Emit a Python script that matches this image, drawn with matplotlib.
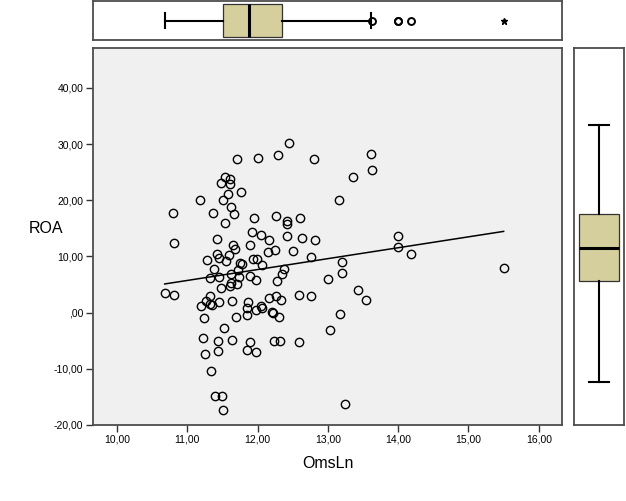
import numpy as np
import matplotlib
matplotlib.use('Agg')
import matplotlib.pyplot as plt
from matplotlib.ticker import FuncFormatter, FixedLocator

plt.rcParams['font.family'] = ['Liberation Sans', 'DejaVu Sans']

oms_ln = np.array([
    12.45, 12.29, 12.01, 11.71, 12.80, 13.61, 13.63, 13.36, 13.16, 11.18,
    11.54, 11.61, 11.48, 11.61, 11.76, 11.58, 11.51, 11.62, 10.80, 11.37,
    11.66, 11.54, 11.95, 12.26, 12.42, 12.42, 12.60, 11.92, 12.05, 12.42,
    12.63, 12.82, 11.42, 12.16, 10.81, 11.65, 11.89, 11.68, 12.15, 12.25,
    12.50, 12.76, 11.42, 11.59, 11.45, 11.28, 11.55, 11.93, 11.99, 11.75,
    11.78, 12.06, 11.38, 11.72, 12.37, 12.35, 11.62, 11.32, 11.45, 11.74,
    11.89, 13.00, 11.98, 12.28, 11.48, 11.61, 11.71, 11.62, 10.68, 10.81,
    11.32, 11.27, 11.45, 11.32, 11.35, 11.19, 11.64, 11.86, 11.85, 11.98,
    12.05, 12.06, 12.16, 12.26, 12.33, 12.59, 12.76, 12.20, 12.22, 11.85,
    12.30, 11.69, 11.24, 11.52, 13.03, 11.22, 11.44, 11.64, 11.89, 12.23,
    12.32, 12.59, 11.44, 11.85, 11.98, 11.25, 11.34, 11.39, 11.49, 11.51,
    14.00, 14.00, 14.18, 13.20, 13.20, 13.43, 13.54, 13.17, 15.50, 13.24,
])
roa = np.array([
    30.25, 28.11, 27.58, 27.40, 27.40, 28.29, 25.44, 24.20, 20.11, 20.11,
    24.20, 23.84, 23.13, 22.95, 21.53, 21.17, 20.11, 18.86, 17.79, 17.79,
    17.62, 16.01, 16.90, 17.26, 16.37, 15.84, 16.90, 14.41, 13.88, 13.70,
    13.35, 12.99, 13.17, 12.99, 12.46, 12.10, 12.10, 11.39, 10.85, 11.21,
    11.03, 9.96, 10.50, 10.32, 9.79, 9.43, 9.25, 9.61, 9.61, 8.90,
    8.72, 8.54, 7.83, 7.65, 7.83, 6.94, 6.94, 6.23, 6.41, 6.41,
    6.58, 6.05, 5.87, 5.69, 4.45, 4.80, 5.16, 5.34, 3.56, 3.20,
    3.02, 2.14, 1.96, 1.60, 1.42, 1.25, 2.14, 1.96, 0.89, 0.53,
    1.25, 0.89, 2.67, 3.02, 2.31, 3.20, 3.02, 0.18, 0.00, -0.36,
    -0.71, -0.71, -0.89, -2.67, -3.02, -4.45, -4.98, -4.80, -5.16, -4.98,
    -4.98, -5.16, -6.76, -6.58, -6.94, -7.30, -10.32, -14.77, -14.77, -17.26,
    13.70, 11.74, 10.50, 9.07, 7.12, 4.09, 2.31, -0.18, 8.01, -16.19,
])

x_ticks = [10, 11, 12, 13, 14, 15, 16]
y_ticks = [-20, -10, 0, 10, 20, 30, 40]
x_label = "OmsLn"
y_label = "ROA"


def spss_fmt(v, pos=None):
    s = f"{v:.2f}".replace('.', ',')
    if s.startswith('0,'):
        s = s[1:]
    return s


W, H = 626, 501
fig = plt.figure(figsize=(W / 100, H / 100), dpi=100)

def frac(x0, y0, x1, y1):
    return [x0 / W, 1 - y1 / H, (x1 - x0) / W, (y1 - y0) / H]

ax = fig.add_axes(frac(93, 48, 562, 425))
ax_top = fig.add_axes(frac(93, 1, 562, 40))
ax_right = fig.add_axes(frac(574, 48, 624, 425))

border = '#4d4d4d'
box_fill = '#d4cf9c'

# main scatter
ax.set_facecolor('#f0f0f0')
ax.plot(oms_ln, roa, linestyle='none', marker='o', markersize=6.0,
        markerfacecolor='none', markeredgecolor='black', markeredgewidth=1.0)
slope, intercept = np.polyfit(oms_ln, roa, 1)
xx = np.array([oms_ln.min(), oms_ln.max()])
ax.plot(xx, slope * xx + intercept, color='black', linewidth=1.1)
ax.set_xlim(9.66, 16.33)
ax.set_ylim(-20, 47.1)
ax.xaxis.set_major_locator(FixedLocator(x_ticks))
ax.yaxis.set_major_locator(FixedLocator(y_ticks))
ax.xaxis.set_major_formatter(FuncFormatter(spss_fmt))
ax.yaxis.set_major_formatter(FuncFormatter(spss_fmt))
ax.tick_params(direction='out', length=5, width=1, color='#333333',
               labelsize=7.5, pad=2)
ax.set_xlabel(x_label, fontsize=11.5, labelpad=8)
ax.set_ylabel(y_label, fontsize=11.5, rotation=0, va='center', ha='center')
ax.yaxis.set_label_coords(-0.100, 0.52)
for sp in ax.spines.values():
    sp.set_color(border)
    sp.set_linewidth(1.3)


def tukey(data, full_range=False):
    q1, med, q3 = np.percentile(data, [25, 50, 75])
    iqr = q3 - q1
    lo_f, hi_f = q1 - 1.5 * iqr, q3 + 1.5 * iqr
    if full_range:
        lo_f, hi_f = data.min(), data.max()
    wlo = data[data >= lo_f].min()
    whi = data[data <= hi_f].max()
    out = data[((data > hi_f) & (data <= q3 + 3 * iqr)) | ((data < lo_f) & (data >= q1 - 3 * iqr))]
    ext = data[(data > q3 + 3 * iqr) | (data < q1 - 3 * iqr)]
    return dict(med=med, q1=q1, q3=q3, whislo=wlo, whishi=whi, fliers=[]), out, ext


box_props = dict(facecolor=box_fill, edgecolor='#333333', linewidth=0.9)
med_props = dict(color='black', linewidth=2.2)
wh_props = dict(color='black', linewidth=1.5)

# top boxplot
st, out, ext = tukey(oms_ln)
ax_top.bxp([st], positions=[1], vert=False, widths=0.85, patch_artist=True,
           boxprops=box_props, medianprops=med_props, whiskerprops=wh_props,
           capprops=wh_props, showfliers=False, capwidths=0.36)
ax_top.plot(out, np.ones_like(out), linestyle='none', marker='o', markersize=5,
            markerfacecolor='none', markeredgecolor='black', markeredgewidth=1.4)
ax_top.plot(ext, np.ones_like(ext), linestyle='none', marker='*', markersize=5,
            color='black')
ax_top.set_xlim(9.66, 16.33)
ax_top.set_ylim(0.5, 1.5)

# right boxplot (no outliers shown in the reference)
st2, _, _ = tukey(roa, full_range=True)
ax_right.bxp([st2], positions=[1], vert=True, widths=0.8, patch_artist=True,
             boxprops=box_props, medianprops=med_props, whiskerprops=wh_props,
             capprops=wh_props, showfliers=False, capwidths=0.4)
k = (roa.max() - roa.min()) / 257.0
ax_right.set_ylim(roa.min() - 43.3 * k, roa.max() + 76.7 * k)
ax_right.set_xlim(0.5, 1.5)

for a in (ax_top, ax_right):
    a.set_facecolor('white')
    a.set_xticks([])
    a.set_yticks([])
    for sp in a.spines.values():
        sp.set_color(border)
        sp.set_linewidth(1.3)

fig.savefig('out.png', dpi=100)
